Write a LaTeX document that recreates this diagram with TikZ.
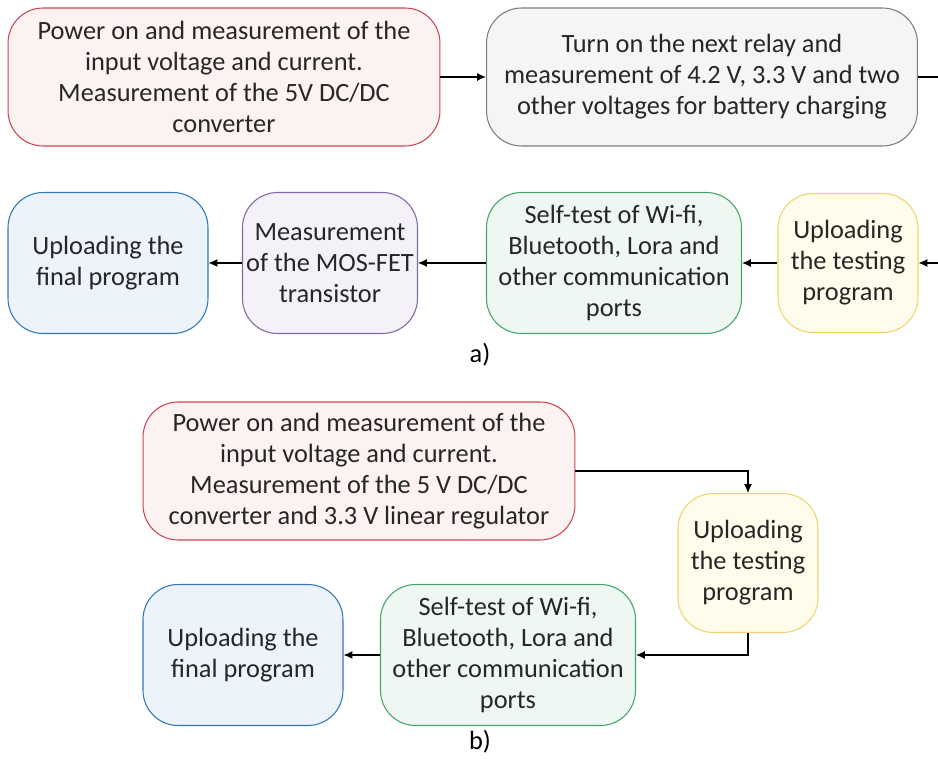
\documentclass[tikz,border=0pt]{standalone}
\usepackage{fontspec}
\setmainfont{Carlito}
\usetikzlibrary{arrows.meta,positioning}
\definecolor{redline}{RGB}{205,70,80}
\definecolor{redfill}{RGB}{253,242,242}
\definecolor{greyline}{RGB}{125,125,125}
\definecolor{greyfill}{RGB}{245,245,245}
\definecolor{blueline}{RGB}{50,120,185}
\definecolor{bluefill}{RGB}{236,243,250}
\definecolor{purpleline}{RGB}{130,105,165}
\definecolor{purplefill}{RGB}{244,242,248}
\definecolor{greenline}{RGB}{70,165,105}
\definecolor{greenfill}{RGB}{238,247,241}
\definecolor{yellowline}{RGB}{240,212,110}
\definecolor{yellowfill}{RGB}{255,252,236}
\tikzset{stage/.style={draw, rounded corners=0.7cm, align=center, line width=0.6pt,
                       text=black!85, inner sep=2pt,
                       font=\fontsize{15}{17.6}\selectfont},
        power/.style = {stage, draw=redline, fill=redfill,
                        minimum width=8.64cm, minimum height=2.76cm},
        relay/.style = {stage, draw=greyline, fill=greyfill,
                        minimum width=8.62cm, minimum height=2.76cm},
        final/.style = {stage, draw=blueline, fill=bluefill,
                        minimum width=4cm, minimum height=2.82cm},
        mosfet/.style = {stage, draw=purpleline, fill=purplefill,
                        minimum width=3.5cm, minimum height=2.82cm},
        selftest/.style = {stage, draw=greenline, fill=greenfill,
                        minimum width=5.1cm, minimum height=2.82cm},
        testing/.style = {stage, draw=yellowline, fill=yellowfill,
                        minimum width=2.8cm, minimum height=2.78cm},
        link/.style = {line width=0.7pt, -{Latex[length=5pt,width=4.5pt]}},
        caption/.style = {font=\fontsize{15}{17}\selectfont},
        }

\begin{document}
\begin{tikzpicture}[x=0.02cm, y=-0.02cm]
    \clip (0,0) rectangle (938,760);

    % a)
    \node [power] (PowerA) at (224,77) {Power on and measurement of the\\
        input voltage and current.\\ Measurement of the 5V DC/DC\\ converter};
    \node [relay] (RelayA) at (702,77) {Turn on the next relay and\\
        measurement of 4.2 V, 3.3 V and two\\ other voltages for battery charging};
    \node [final] (FinalA) at (108,263) {Uploading the\\ final program};
    \node [mosfet] (MosfetA) at (330,263) {Measurement\\ of the MOS-FET\\ transistor};
    \node [selftest] (SelfTestA) at (614,263) {Self-test of Wi-fi,\\
        Bluetooth, Lora and\\ other communication\\ ports};
    \node [testing] (TestingA) at (848,263) {Uploading\\ the testing\\ program};
    \node [caption] (LabelA) at (480,355) {a)};

    \draw [link] (PowerA) -- (RelayA);
    \draw [link] (RelayA.east) -- ++(40,0) |- (TestingA.east);
    \draw [link] (TestingA) -- (SelfTestA);
    \draw [link] (SelfTestA) -- (MosfetA);
    \draw [link] (MosfetA) -- (FinalA);

    % b)
    \node [power] (PowerB) at (359,471) {Power on and measurement of the\\
        input voltage and current.\\ Measurement of the 5 V DC/DC\\
        converter and 3.3 V linear regulator};
    \node [testing] (TestingB) at (748,563) {Uploading\\ the testing\\ program};
    \node [selftest] (SelfTestB) at (508,655) {Self-test of Wi-fi,\\
        Bluetooth, Lora and\\ other communication\\ ports};
    \node [final] (FinalB) at (243,655) {Uploading the\\ final program};
    \node [caption] (LabelB) at (480,742) {b)};

    \draw [link] (PowerB.east) -| (TestingB.north);
    \draw [link] (TestingB.south) |- (SelfTestB.east);
    \draw [link] (SelfTestB) -- (FinalB);

\end{tikzpicture}
\end{document}
